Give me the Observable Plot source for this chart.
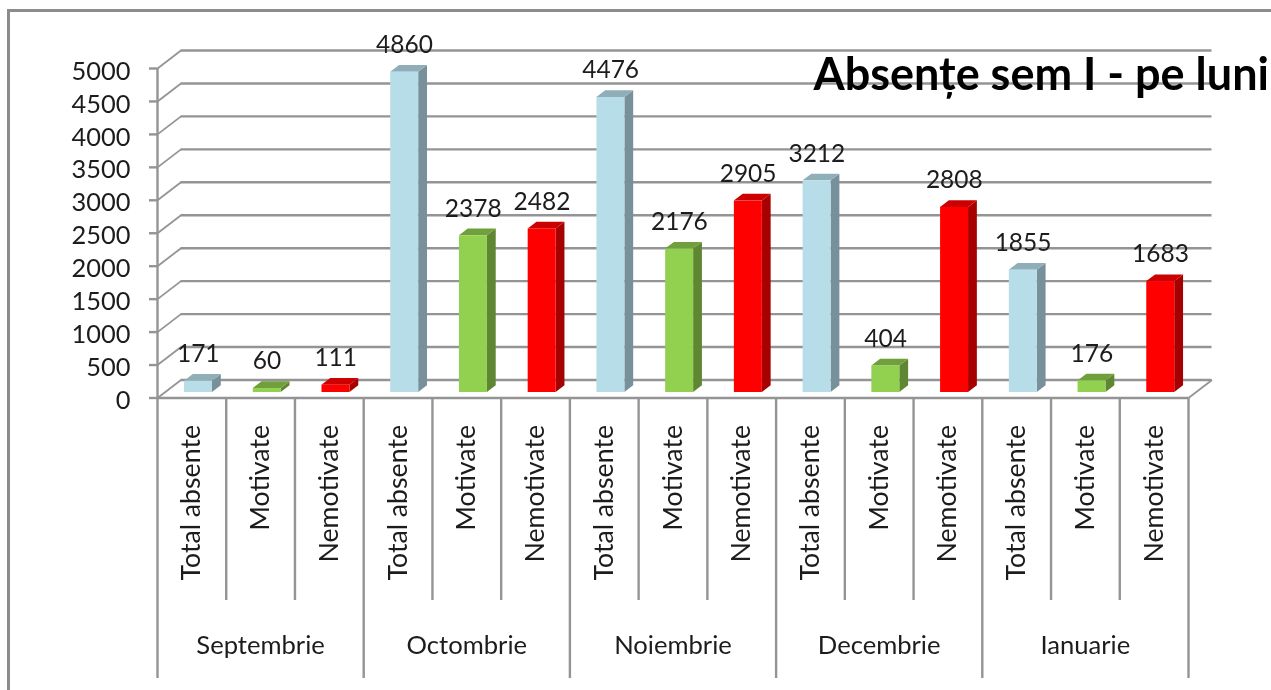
<!DOCTYPE html>
<html>
<head>
<meta charset="utf-8">
<script src="https://cdn.jsdelivr.net/npm/d3@7"></script>
<script src="https://cdn.jsdelivr.net/npm/@observablehq/plot@0.6"></script>
<style>
html,body{margin:0;padding:0;background:#fff;overflow:hidden;width:1271px;height:690px}
#frame{position:absolute;left:7px;top:9px;width:1300px;height:720px;border-left:3px solid #8c8c8c;border-top:3px solid #8c8c8c;box-sizing:border-box}
#chart{position:absolute;left:0;top:0;filter:blur(0.4px)}
#chart svg{display:block;background:transparent}
</style>
</head>
<body>
<div id="frame"></div>
<div id="chart"></div>
<script>
const title = "Absențe sem I - pe luni";
const months = ["Septembrie","Octombrie","Noiembrie","Decembrie","Ianuarie"];
const measures = ["Total absente","Motivate","Nemotivate"];
const totalAbsente = [171,4860,4476,3212,1855];
const motivate = [60,2378,2176,404,176];
const nemotivate = [111,2482,2905,2808,1683];
const yTicks = [0,500,1000,1500,2000,2500,3000,3500,4000,4500,5000];
const faceColors = ["#B7DDE8","#92D050","#FF0000"];
const sideColors = ["#78909A","#5F8633","#A60000"];
const topColors = ["#8FAEB8","#6FA03C","#CC0000"];

const FONT = "Lato, Carlito, Calibri, sans-serif";
const GRID = "#949494";
const INK = "#1c1c1c";

const series = [totalAbsente, motivate, nemotivate];
const rows = months.flatMap((month, m) => measures.map((measure, k) => ({
  month, measure, k, i: m * 3 + k, value: series[k][m]
})));

// scale-space sizes of the pseudo-3D extrusion
const xUnit = 1031 / 15, yUnit = 329.5 / 5000;
const wallX = 23.5 / xUnit, wallY = 18 / yUnit;
const barX = 8.8 / xUnit, barY = 6.7 / yUnit;
const x1 = i => i + 0.393, x2 = i => i + 0.80;
const lift = -5.5;
const rowLabels = -202.5 / yUnit, rowMonths = -280.5 / yUnit;

const sidePts = d => [
  {id:d.i, x:x2(d.i), y1:0, y2:d.value},
  {id:d.i, x:x2(d.i)+barX, y1:barY, y2:d.value+barY}
];
const topPts = d => [
  {id:d.i, x:x1(d.i), y1:d.value, y2:d.value},
  {id:d.i, x:x1(d.i)+barX, y1:d.value, y2:d.value+barY},
  {id:d.i, x:x2(d.i), y1:d.value, y2:d.value+barY},
  {id:d.i, x:x2(d.i)+barX, y1:d.value+barY, y2:d.value+barY}
];

const barMarks = measures.flatMap((measure, k) => {
  const sub = rows.filter(d => d.k === k);
  return [
    Plot.area(sub.flatMap(sidePts), {x1:"x", y1:"y1", y2:"y2", z:"id", fill:sideColors[k], dy:lift}),
    Plot.area(sub.flatMap(topPts), {x1:"x", y1:"y1", y2:"y2", z:"id", fill:topColors[k], dy:lift}),
    Plot.rectY(sub, {x1:d => x1(d.i), x2:d => x2(d.i), y1:0, y2:"value", fill:faceColors[k], dy:lift})
  ];
});

const cells = d3.range(16);
const chart = Plot.plot({
  width:1271, height:690,
  marginLeft:157, marginRight:83, marginTop:68, marginBottom:292.5,
  style:{fontFamily:FONT, background:"transparent", overflow:"visible"},
  x:{domain:[0,15], axis:null},
  y:{domain:[0,5000], axis:null},
  marks:[
    // back wall
    Plot.ruleY(yTicks, {x1:0, x2:15, stroke:GRID, strokeWidth:2.4, dx:23.5, dy:-18}),
    // side-wall diagonals
    Plot.link(yTicks, {x1:0, x2:wallX, y1:d=>d, y2:d=>d+wallY, stroke:GRID, strokeWidth:1.8}),
    Plot.link([0], {x1:15, x2:15+wallX, y1:0, y2:wallY, stroke:GRID, strokeWidth:1.8}),
    // floor and axis lines
    Plot.ruleY([0], {x1:0, x2:15, stroke:GRID, strokeWidth:2.4}),
    Plot.ruleX([0], {y1:0, y2:5000, stroke:GRID, strokeWidth:2.4}),
    // category dividers
    Plot.ruleX(cells.filter(i => i % 3 !== 0), {y1:0, y2:rowLabels, stroke:GRID, strokeWidth:2.4}),
    Plot.ruleX(cells.filter(i => i % 3 === 0), {y1:0, y2:rowMonths, stroke:GRID, strokeWidth:2.4}),
    Plot.axisY({ticks:yTicks, tickSize:8, fill:"none", stroke:GRID, strokeWidth:2.4, label:null}),
    Plot.axisY({ticks:yTicks, tickSize:0, tickPadding:27, dy:3, tickFormat:d=>String(d), label:null,
      fill:INK, fontSize:25.4, fontFamily:FONT}),
    ...barMarks,
    // value labels
    Plot.text(rows, {x:d => x1(d.i) + 0.2, y:"value", text:d => String(d.value), dy:lift - 27,
      fontSize:24.5, fontFamily:FONT, fill:INK}),
    // measure labels
    Plot.text(rows, {x:d => d.i + 0.5, y:0, text:"measure", rotate:-90, textAnchor:"end", dy:27,
      fontSize:26.7, fontFamily:FONT, fill:INK}),
    // month labels
    Plot.text(months, {x:(d,m) => m*3 + 1.5, y:0, text:d=>d, dy:247.5, fontSize:25.6, fontFamily:FONT, fill:INK}),
    // title
    Plot.text([title], {x:(813-157)/xUnit, y:(397.5-75)/yUnit, text:d=>d, textAnchor:"start",
      fontSize:45, fontWeight:700, fontFamily:FONT, fill:"#000"})
  ]
});
document.getElementById("chart").append(chart);
</script>
</body>
</html>
